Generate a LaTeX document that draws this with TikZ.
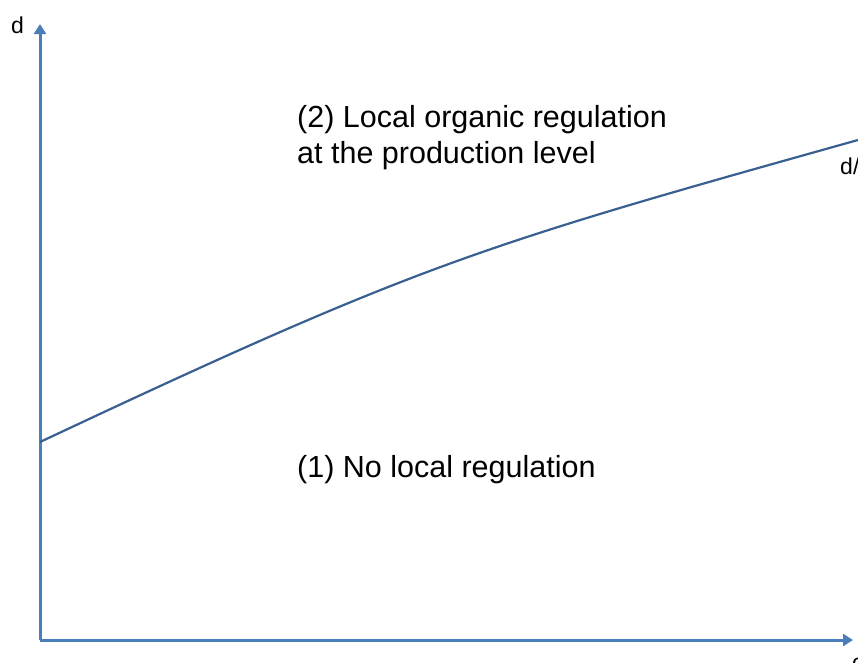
\documentclass[tikz,border=0pt]{standalone}
\usepackage{fontspec}
\setmainfont{Liberation Sans}
\usetikzlibrary{arrows.meta}
\definecolor{axisblue}{HTML}{4A7EBB}
\definecolor{curveblue}{HTML}{3A5F91}
\tikzset{
  axisline/.style={draw=axisblue, line width=3pt, -{Triangle[length=10pt,width=12pt]}},
  curveline/.style={draw=curveblue, line width=2.2pt},
  bigtext/.style={inner sep=0pt, font=\fontsize{30.5}{36}\selectfont, align=left},
  smalltext/.style={inner sep=0pt, font=\fontsize{23}{26}\selectfont}
}
\begin{document}
\begin{tikzpicture}[x=1pt,y=-1pt]
\useasboundingbox (0,0) rectangle (858,662);
\clip (0,0) rectangle (858,662);
\fill[white] (0,0) rectangle (858,662);
\coordinate (O) at (40,640);
\coordinate (ytop) at (40,24);
\coordinate (xend) at (853,640);
\coordinate (cstart) at (40,442);
\coordinate (cend) at (858,140);
\draw[axisline] (O) -- (ytop);
\draw[axisline] (O) -- (xend);
\draw[curveline] (cstart) .. controls (420,263.4) and (478,246.4) .. (cend);
\node[bigtext, anchor=base west] (lab2) at (297,163) {(2) Local organic regulation\\at the production level};
\node[bigtext, anchor=base west] (lab1) at (297,477) {(1) No local regulation};
\node[smalltext, anchor=base west] (dlab) at (11,33) {d};
\node[smalltext, anchor=base west] (dclab) at (840,174) {d/c};
\node[smalltext, anchor=base west] (clab) at (852,670) {c};
\end{tikzpicture}
\end{document}
